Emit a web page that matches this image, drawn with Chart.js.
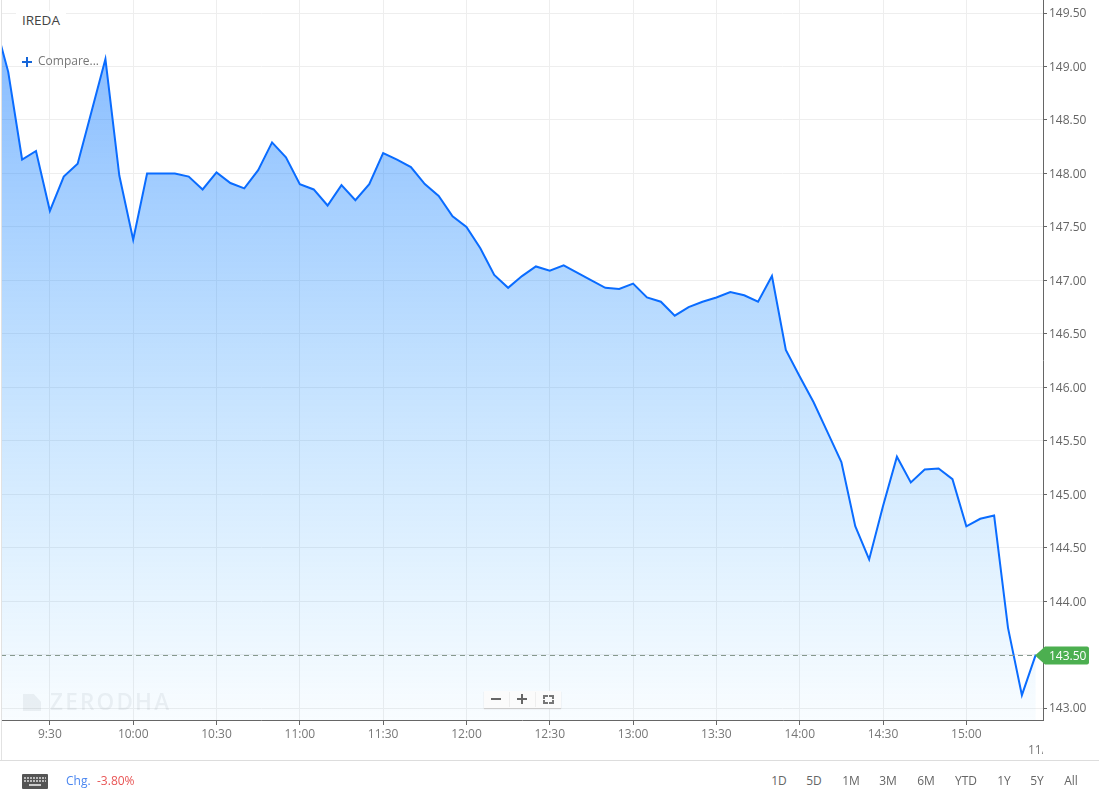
<!DOCTYPE html>
<html>
<head>
<meta charset="utf-8">
<title>IREDA</title>
<script src="https://cdn.jsdelivr.net/npm/chart.js@4"></script>
<style>
  html, body { margin: 0; padding: 0; background: #fff; overflow: hidden; }
  body { width: 1099px; height: 799px; position: relative; font-family: "Open Sans", sans-serif; color: #666; }
  #wrap { position: absolute; left: 0; top: 0; width: 1099px; height: 760px; }
  #leftEdge { position: absolute; left: 1px; top: 0; width: 1px; height: 760px; background: #e2e2e2; }
  .lbl { position: absolute; white-space: nowrap; line-height: 16px; }
  #title { left: 16px; top: 11px; padding: 1px 6px; background: #fff; font-size: 13.5px; color: #444; }
  #compare { left: 38px; top: 53px; font-size: 12px; color: #777; }
  .blue { position: absolute; background: #1565d8; }
  #brand { left: 50px; top: 690px; font-size: 22.5px; letter-spacing: 2.2px; color: rgba(60,70,80,0.07); line-height: 24px; font-weight: 600; }
  #brandMark { position: absolute; left: 23px; top: 694px; width: 18px; height: 17px; background: rgba(60,70,80,0.07); clip-path: polygon(0 0, 60% 0, 100% 45%, 100% 100%, 0 100%); }
  #zoomBox { position: absolute; left: 484px; top: 691px; width: 77px; height: 17px; background: #fbfbfb; box-shadow: 0 1px 1px #ccc; }
  #zoomBox b { position: absolute; background: #666; }
  #zoomBox u { position: absolute; top: 1px; width: 1px; height: 15px; background: #eee; }
  #zoomBox s { position: absolute; width: 3px; height: 2px; border: 0 solid #777; }
  #dateCut { left: 1028px; top: 742px; width: 15px; overflow: hidden; font-size: 12px; color: #777; }
  #bar { position: absolute; left: 0; top: 760px; width: 1099px; height: 39px; border-top: 1px solid #ddd; box-sizing: border-box; }
  #keys { position: absolute; left: 22px; top: 13px; width: 26px; height: 15px; background: #555; border-radius: 1px; }
  #keys i { position: absolute; left: 2px; right: 2px; height: 2px; background: repeating-linear-gradient(90deg, #bbb 0 2px, #555 2px 3px); }
  #chg { left: 66px; top: 12px; font-size: 12px; color: #4a86f0; }
  #chgVal { left: 97px; top: 12px; font-size: 12px; color: #e85555; }
  .range { top: 12px; font-size: 12px; color: #666; transform: translateX(-50%); }
</style>
</head>
<body>
<div id="wrap"><canvas id="chartHarga"></canvas></div>
<div id="leftEdge"></div>

<div id="brandMark"></div>
<div class="lbl" id="brand">ZERODHA</div>
<div class="lbl" id="title">IREDA</div>
<div class="blue" style="left:22px;top:61px;width:10px;height:2px"></div>
<div class="blue" style="left:26px;top:57px;width:2px;height:10px"></div>
<div class="lbl" id="compare">Compare...</div>
<div id="zoomBox">
  <b style="left:7px;top:7px;width:10px;height:2px"></b>
  <u style="left:25px"></u>
  <b style="left:33px;top:7px;width:10px;height:2px"></b>
  <b style="left:37px;top:3px;width:2px;height:10px"></b>
  <u style="left:51px"></u>
  <s style="left:59px;top:4px;border-width:2px 0 0 2px"></s>
  <s style="left:65px;top:4px;border-width:2px 2px 0 0"></s>
  <s style="left:59px;top:9px;border-width:0 0 2px 2px"></s>
  <s style="left:65px;top:9px;border-width:0 2px 2px 0"></s>
</div>
<div class="lbl" id="dateCut">11/</div>

<div id="bar">
  <div id="keys"><i style="top:3px"></i><i style="top:6px"></i><i style="top:10px;left:7px;right:7px;background:#ccc"></i></div>
  <div class="lbl" id="chg">Chg.</div>
  <div class="lbl" id="chgVal">-3.80%</div>
</div>

<script>
// time of each 5 minute point
const times = ['9:10','9:15','9:20','9:25','9:30','9:35','9:40','9:45','9:50','9:55',
  '10:00','10:05','10:10','10:15','10:20','10:25','10:30','10:35','10:40','10:45','10:50','10:55',
  '11:00','11:05','11:10','11:15','11:20','11:25','11:30','11:35','11:40','11:45','11:50','11:55',
  '12:00','12:05','12:10','12:15','12:20','12:25','12:30','12:35','12:40','12:45','12:50','12:55',
  '13:00','13:05','13:10','13:15','13:20','13:25','13:30','13:35','13:40','13:45','13:50','13:55',
  '14:00','14:05','14:10','14:15','14:20','14:25','14:30','14:35','14:40','14:45','14:50','14:55',
  '15:00','15:05','15:10','15:15','15:20','15:25'];

const prices = [149.43,148.95,148.13,148.21,147.65,147.97,148.09,148.58,149.07,147.98,
  147.38,148.00,148.00,148.00,147.97,147.85,148.01,147.91,147.86,148.03,148.29,148.15,
  147.90,147.85,147.70,147.89,147.75,147.90,148.19,148.13,148.06,147.90,147.79,147.60,
  147.50,147.30,147.05,146.93,147.04,147.13,147.09,147.14,147.07,147.00,146.93,146.92,
  146.97,146.84,146.80,146.67,146.75,146.80,146.84,146.89,146.86,146.80,147.04,146.35,
  146.10,145.86,145.58,145.30,144.70,144.39,144.89,145.35,145.11,145.23,145.24,145.14,
  144.70,144.77,144.80,143.75,143.12,143.50];

const xTickLabels = ['9:30','10:00','10:30','11:00','11:30','12:00','12:30','13:00','13:30','14:00','14:30','15:00'];
const yTickValues = [143,143.5,144,144.5,145,145.5,146,146.5,147,147.5,148,148.5,149,149.5];
const rangeLabels = ['1D','5D','1M','3M','6M','YTD','1Y','5Y','All'];
const lastPrice = 143.50;

function toMinutes(t) {
    const p = t.split(':');
    return Number(p[0]) * 60 + Number(p[1]);
}
function toLabel(m) {
    const menit = m % 60;
    return Math.floor(m / 60) + ':' + (menit < 10 ? '0' : '') + menit;
}

// range buttons in the bottom bar
const rangeX = [779,814,851,888,926,966,1004,1037,1071];
rangeLabels.forEach((r, i) => {
    const el = document.createElement('div');
    el.className = 'lbl range';
    el.style.left = rangeX[i] + 'px';
    el.innerText = r;
    document.getElementById('bar').appendChild(el);
});

// dashed last price line and the green tag on the axis
const priceTag = {
    id: 'priceTag',
    afterDraw(chart) {
        const c = chart.ctx, area = chart.chartArea;
        const y = Math.round(chart.scales.y.getPixelForValue(lastPrice)) + 0.5;
        c.save();
        c.strokeStyle = '#86998e';
        c.setLineDash([5, 4]);
        c.lineWidth = 1;
        c.beginPath();
        c.moveTo(area.left, y);
        c.lineTo(area.right - 8, y);
        c.stroke();
        c.setLineDash([]);
        c.fillStyle = '#4caf50';
        c.beginPath();
        c.moveTo(area.right - 8, y);
        c.lineTo(area.right + 2, y - 9);
        c.lineTo(1087, y - 9);
        c.quadraticCurveTo(1089, y - 9, 1089, y - 7);
        c.lineTo(1089, y + 7);
        c.quadraticCurveTo(1089, y + 9, 1087, y + 9);
        c.lineTo(area.right + 2, y + 9);
        c.closePath();
        c.fill();
        c.fillStyle = '#fff';
        c.font = '12px "Open Sans"';
        c.textAlign = 'left';
        c.textBaseline = 'middle';
        c.fillText(lastPrice.toFixed(2), 1049, y + 1);
        c.restore();
    }
};

new Chart(document.getElementById('chartHarga'), {
    type: 'line',
    data: {
        datasets: [{
            data: times.map((t, i) => ({ x: toMinutes(t), y: prices[i] })),
            borderColor: '#0a6cff',
            borderWidth: 2,
            pointRadius: 0,
            tension: 0,
            fill: 'start',
            backgroundColor(ctx) {
                const area = ctx.chart.chartArea;
                if (!area) return 'transparent';
                const g = ctx.chart.ctx.createLinearGradient(0, area.top, 0, area.bottom);
                g.addColorStop(0, 'rgba(10,115,255,0.52)');
                g.addColorStop(1, 'rgba(50,170,255,0.03)');
                return g;
            }
        }]
    },
    options: {
        responsive: true,
        maintainAspectRatio: false,
        animation: false,
        layout: { padding: { left: 1, top: 0, right: 0, bottom: 0 } },
        plugins: { legend: { display: false }, tooltip: { enabled: false } },
        scales: {
            x: {
                type: 'linear',
                min: 552.4,
                max: 927.6,
                afterFit(s) { s.height = 40; s.paddingLeft = 0; s.paddingRight = 0; },
                afterBuildTicks(s) { s.ticks = xTickLabels.map(l => ({ value: toMinutes(l) })); },
                border: { color: '#666', width: 1 },
                grid: { color: '#eeeeee', tickColor: '#666', tickLength: 5 },
                ticks: {
                    color: '#777',
                    font: { family: '"Open Sans"', size: 12 },
                    maxRotation: 0,
                    autoSkip: false,
                    padding: 2,
                    callback: v => toLabel(v)
                }
            },
            y: {
                position: 'right',
                min: 142.888,
                max: 149.622,
                afterFit(s) { s.width = 56; s.paddingTop = 0; s.paddingBottom = 0; },
                afterBuildTicks(s) { s.ticks = yTickValues.map(v => ({ value: v })); },
                border: { color: '#666', width: 1 },
                grid: { color: '#eeeeee', tickColor: '#666', tickLength: 4 },
                ticks: {
                    color: '#666',
                    font: { family: '"Open Sans"', size: 12 },
                    padding: 2,
                    labelOffset: 1,
                    callback: v => v.toFixed(2)
                }
            }
        }
    },
    plugins: [priceTag]
});
</script>
</body>
</html>
